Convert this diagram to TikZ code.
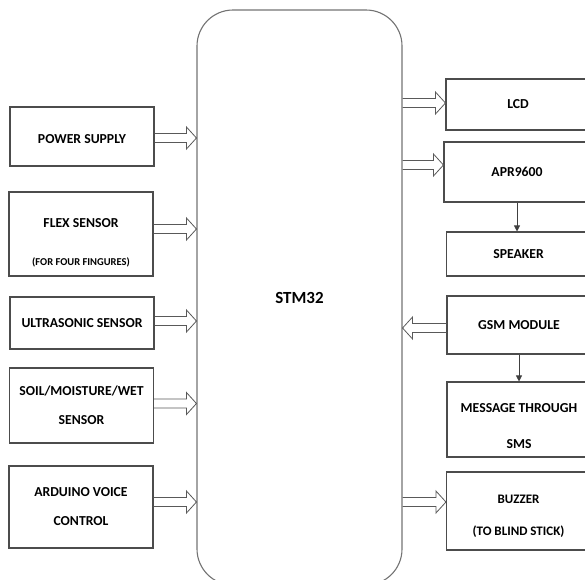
\documentclass[tikz,border=0pt]{standalone}
\usepackage{fontspec}
\setmainfont{Carlito}
\usetikzlibrary{arrows.meta,calc}

\newcommand{\lift}[1]{\rule{0pt}{#1}}

\tikzset{
    blk/.style={draw=black!70, line width=1.1pt, minimum width=144pt,
        align=center, font=\fontsize{13.7}{29}\selectfont\bfseries},
    % hollow block arrow, horizontal only
    hollow/.style={draw=black!65, line width=0.8pt, to path={
        let \p1=(\tikztostart), \p2=(\tikztotarget), \n1={sign(\x2-\x1)} in
        (\x1,\y1+4.5pt) -- (\x2-\n1*10pt,\y1+4.5pt) -- (\x2-\n1*10pt,\y1+11pt)
        -- (\x2,\y1) -- (\x2-\n1*10pt,\y1-11pt) -- (\x2-\n1*10pt,\y1-4.5pt)
        -- (\x1,\y1-4.5pt)}},
    link/.style={draw=black!75, line width=0.8pt, -{Triangle[length=6pt, width=6pt]}}
}

\begin{document}
\begin{tikzpicture}[x=1pt, y=-1pt]
\useasboundingbox (0,0) rectangle (585,579);

% Controller
\node[draw=black!55, line width=1.1pt, rounded corners=36pt,
    minimum width=205pt, minimum height=575pt,
    font=\fontsize{17}{20}\selectfont\bfseries] (stm) at (299.5,297.5) {STM32};

% Inputs
\node[blk, minimum height=59pt] (pwr) at (82,136.5) {\lift{14pt}POWER SUPPLY};
\node[blk, minimum height=84pt] (flex) at (81,234)
    {\lift{26pt}FLEX SENSOR\\[9pt]{\fontsize{10.5}{13}\selectfont(FOR FOUR FINGURES)}};
\node[blk, minimum height=52pt] (ultra) at (82,323) {ULTRASONIC SENSOR};
\node[blk, minimum height=75pt] (soil) at (81.5,405.5) {SOIL/MOISTURE/WET\\SENSOR};
\node[blk, minimum height=82pt] (voice) at (81,507) {ARDUINO VOICE\\CONTROL};

% Outputs
\node[blk, minimum height=51pt] (lcd) at (518,104.5) {LCD};
\node[blk, minimum height=60pt, minimum width=146pt] (apr) at (517,172) {APR9600};
\node[blk, minimum height=44pt] (spk) at (518.5,254) {SPEAKER};
\node[blk, minimum height=58pt] (gsm) at (519,325) {GSM MODULE};
\node[blk, minimum height=75pt] (sms) at (519,419.5) {\lift{22pt}MESSAGE THROUGH\\[7pt]SMS};
\node[blk, minimum height=78pt, font=\fontsize{13}{32}\selectfont\bfseries] (buz) at (518.5,511)
    {\lift{18pt}BUZZER\\(TO BLIND STICK)};

% Block arrows into the controller
\draw[hollow] ([yshift=-1.5pt]pwr.east) to ([yshift=-1.5pt]pwr.east -| stm.west);
\draw[hollow] ([yshift=5pt]flex.east) to ([yshift=5pt]flex.east -| stm.west);
\draw[hollow] ([yshift=2pt]ultra.east) to ([yshift=2pt]ultra.east -| stm.west);
\draw[hollow] ([yshift=2pt]soil.east) to ([yshift=2pt]soil.east -| stm.west);
\draw[hollow] ([yshift=5pt]voice.east) to ([yshift=5pt]voice.east -| stm.west);
\draw[hollow] ([yshift=-3pt]gsm.west) to ([yshift=-3pt]gsm.west -| stm.east);

% Block arrows out of the controller
\draw[hollow] ([yshift=1.5pt]lcd.west -| stm.east) to ([yshift=1.5pt]lcd.west);
\draw[hollow] ([yshift=7pt]apr.west -| stm.east) to ([yshift=7pt]apr.west);
\draw[hollow] ([yshift=9pt]buz.west -| stm.east) to ([yshift=9pt]buz.west);

% Plain arrows
\draw[link] (apr.south) -- (apr.south |- spk.north);
\draw[link] (gsm.south) -- (gsm.south |- sms.north);

\end{tikzpicture}
\end{document}
